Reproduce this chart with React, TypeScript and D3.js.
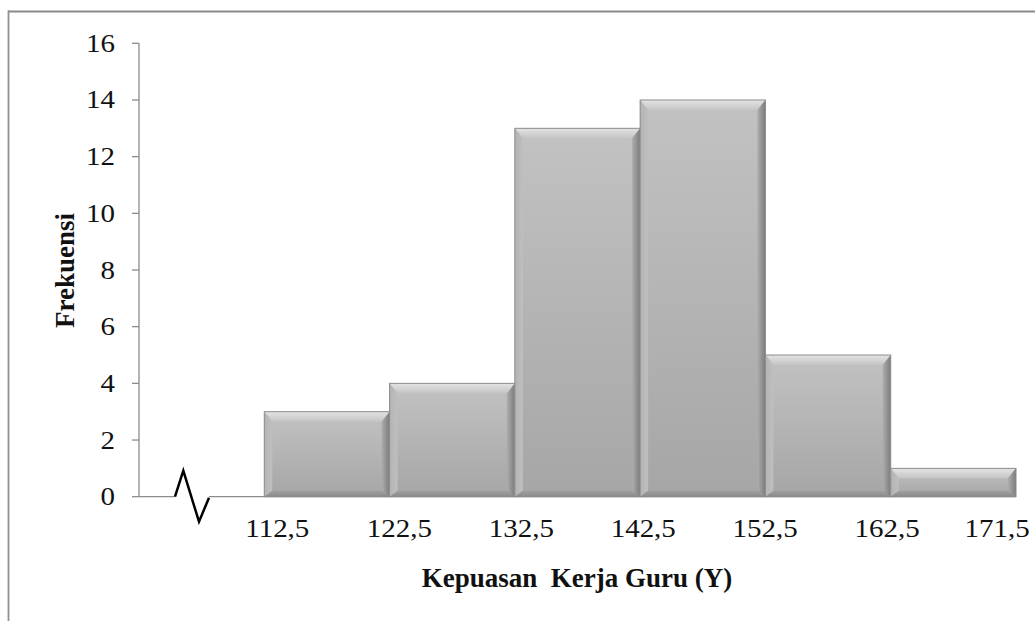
import React from "react";
import * as d3 from "d3";

const binEdges = [112.5, 122.5, 132.5, 142.5, 152.5, 162.5, 172.5];
const frequencies = [3, 4, 13, 14, 5, 1];
const xTickValues = [112.5, 122.5, 132.5, 142.5, 152.5, 162.5, 171.5];
const xTickLabels = ["112,5", "122,5", "132,5", "142,5", "152,5", "162,5", "171,5"];
const yTickValues = [0, 2, 4, 6, 8, 10, 12, 14, 16];
const xTitle = "Kepuasan\u00a0\u00a0Kerja Guru (Y)";
const yTitle = "Frekuensi";

const W = 1035;
const H = 621;
const FONT = "'Liberation Serif', 'Times New Roman', serif";

export default function App() {
  const x = d3.scaleLinear().domain([102.5, 172.5]).range([139, 1016]);
  const y = d3.scaleLinear().domain([0, 16]).range([496.7, 43.3]);
  const labelX = d3
    .scaleLinear()
    .domain([xTickValues[0], xTickValues[xTickValues.length - 1]])
    .range([x(112.5) + 13, x(172.5) - 19]);
  const x0 = x.range()[0];
  const yb = y(0);
  const bars = frequencies.map((f, i) => ({
    x0: x(binEdges[i]),
    x1: x(binEdges[i + 1]),
    y0: y(f),
    y1: yb,
  }));
  const bt = 10; // top bevel
  const bs = 8; // side bevel
  const bb = 6; // bottom bevel
  const zig = [
    [x0 + 36, yb],
    [x0 + 44.3, yb - 26],
    [x0 + 60, yb + 25],
    [x0 + 70, yb + 1],
  ];
  const sx = 1.16;

  return (
    <svg
      width={W}
      height={H}
      style={{ position: "absolute", left: 0, top: 0, background: "#fff" }}
    >
      <defs>
        <linearGradient id="face" x1="0" y1="0" x2="0" y2="1">
          <stop offset="0" stopColor="#c2c2c2" />
          <stop offset="1" stopColor="#a6a6a6" />
        </linearGradient>
        <linearGradient id="topBev" x1="0" y1="0" x2="0" y2="1">
          <stop offset="0" stopColor="#e4e4e4" />
          <stop offset="1" stopColor="#c4c4c4" />
        </linearGradient>
        <linearGradient id="leftBev" x1="0" y1="0" x2="1" y2="0">
          <stop offset="0" stopColor="#b4b4b4" />
          <stop offset="1" stopColor="#bfbfbf" />
        </linearGradient>
        <linearGradient id="rightBev" x1="0" y1="0" x2="1" y2="0">
          <stop offset="0" stopColor="#adadad" />
          <stop offset="1" stopColor="#7c7c7c" />
        </linearGradient>
        <linearGradient id="botBev" x1="0" y1="0" x2="0" y2="1">
          <stop offset="0" stopColor="#a0a0a0" />
          <stop offset="1" stopColor="#8a8a8a" />
        </linearGradient>
      </defs>

      {/* frame */}
      <line x1={8} x2={W} y1={11.5} y2={11.5} stroke="#8a8a8a" strokeWidth={2} />
      <line x1={8.5} x2={8.5} y1={10.5} y2={H} stroke="#929292" strokeWidth={1.8} />

      {/* bars */}
      {bars.map((b, i) => (
        <g key={i}>
          <rect x={b.x0} y={b.y0} width={b.x1 - b.x0} height={b.y1 - b.y0} fill="url(#face)" />
          <polygon
            points={`${b.x0},${b.y0} ${b.x1},${b.y0} ${b.x1 - bs},${b.y0 + bt} ${b.x0 + bs},${b.y0 + bt}`}
            fill="url(#topBev)"
          />
          <polygon
            points={`${b.x0},${b.y0} ${b.x0 + bs},${b.y0 + bt} ${b.x0 + bs},${b.y1 - bb} ${b.x0},${b.y1}`}
            fill="url(#leftBev)"
          />
          <polygon
            points={`${b.x1},${b.y0} ${b.x1 - bs},${b.y0 + bt} ${b.x1 - bs},${b.y1 - bb} ${b.x1},${b.y1}`}
            fill="url(#rightBev)"
          />
          <polygon
            points={`${b.x0},${b.y1} ${b.x0 + bs},${b.y1 - bb} ${b.x1 - bs},${b.y1 - bb} ${b.x1},${b.y1}`}
            fill="url(#botBev)"
          />
          <rect
            x={b.x0}
            y={b.y0}
            width={b.x1 - b.x0}
            height={b.y1 - b.y0}
            fill="none"
            stroke="#8c8c8c"
            strokeWidth={1}
          />
        </g>
      ))}

      {/* y axis */}
      <line x1={x0} x2={x0} y1={y(16)} y2={yb} stroke="#8c8c8c" strokeWidth={1.3} />
      {yTickValues.map((v) => (
        <g key={v}>
          <line x1={x0 - 7} x2={x0} y1={y(v)} y2={y(v)} stroke="#8c8c8c" strokeWidth={1.3} />
          <text
            transform={`translate(${x0 - 24},${y(v) + 8.5}) scale(${sx},1)`}
            textAnchor="end"
            fontFamily={FONT}
            fontSize={25}
            fill="#111"
          >
            {v}
          </text>
        </g>
      ))}

      {/* x axis with break */}
      <line x1={x0} x2={zig[0][0]} y1={yb} y2={yb} stroke="#8c8c8c" strokeWidth={1.3} />
      <line x1={zig[3][0]} x2={x(172.5)} y1={yb} y2={yb} stroke="#8c8c8c" strokeWidth={1.3} />
      <polyline
        points={zig.map((p) => p.join(",")).join(" ")}
        fill="none"
        stroke="#000"
        strokeWidth={2.5}
        strokeLinejoin="miter"
      />
      {xTickValues.map((v, i) => (
        <text
          key={v}
          transform={`translate(${labelX(v)},${yb + 40}) scale(${sx},1)`}
          textAnchor="middle"
          fontFamily={FONT}
          fontSize={25}
          fill="#111"
        >
          {xTickLabels[i]}
        </text>
      ))}

      {/* titles */}
      <text
        x={577}
        y={587}
        textAnchor="middle"
        fontFamily={FONT}
        fontSize={27}
        fontWeight="bold"
        fill="#111"
      >
        {xTitle}
      </text>
      <text
        transform={`translate(74,270.5) rotate(-90)`}
        textAnchor="middle"
        fontFamily={FONT}
        fontSize={27}
        fontWeight="bold"
        fill="#111"
      >
        {yTitle}
      </text>
    </svg>
  );
}
